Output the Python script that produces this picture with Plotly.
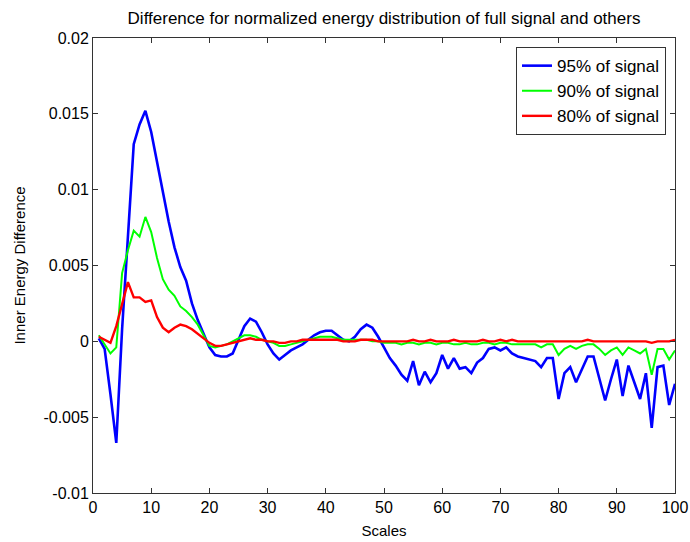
import plotly.graph_objects as go

scales = list(range(1, 101))

blue_95 = [
    0.0002, -0.0005, -0.0035, -0.0067, 0.0008, 0.0072, 0.0130, 0.0143, 0.0152, 0.0138,
    0.0118, 0.0097, 0.0079, 0.0062, 0.0049, 0.0040, 0.0025, 0.0014, 0.0005, -0.0004,
    -0.0009, -0.0010, -0.0010, -0.0008, 0.0001, 0.0010, 0.0015, 0.0013, 0.0006, -0.0002,
    -0.0008, -0.0012, -0.0009, -0.0006, -0.0004, -0.0002, 0.0001, 0.0004, 0.0006, 0.0007,
    0.0007, 0.0004, 0.0001, 0.0000, 0.0003, 0.0008, 0.0011, 0.0009, 0.0003, -0.0004,
    -0.0011, -0.0016, -0.0022, -0.0026, -0.0013, -0.0029, -0.0020, -0.0027, -0.0021, -0.0009,
    -0.0018, -0.0011, -0.0018, -0.0017, -0.0021, -0.0014, -0.0011, -0.0005, -0.0004, -0.0006,
    -0.0004, -0.0008, -0.0010, -0.0011, -0.0012, -0.0013, -0.0017, -0.0011, -0.0011, -0.0038,
    -0.0021, -0.0017, -0.0027, -0.0018, -0.0010, -0.0010, -0.0025, -0.0039, -0.0025, -0.0012,
    -0.0036, -0.0016, -0.0027, -0.0038, -0.0021, -0.0057, -0.0017, -0.0016, -0.0042, -0.0028,
]

green_90 = [
    0.0004, -0.0002, -0.0008, -0.0004, 0.0045, 0.0060, 0.0073, 0.0069, 0.0082, 0.0072,
    0.0055, 0.0041, 0.0034, 0.0030, 0.0023, 0.0020, 0.0016, 0.0011, 0.0004, -0.0003,
    -0.0004, -0.0003, -0.0002, 0.0000, 0.0002, 0.0004, 0.0004, 0.0003, 0.0001, 0.0000,
    -0.0001, -0.0003, -0.0003, -0.0002, -0.0001, 0.0000, 0.0001, 0.0002, 0.0003, 0.0003,
    0.0003, 0.0002, 0.0001, 0.0001, 0.0001, 0.0001, 0.0001, 0.0000, 0.0000, -0.0001,
    -0.0001, -0.0001, -0.0002, -0.0001, -0.0001, -0.0002, -0.0001, -0.0001, -0.0002, -0.0001,
    -0.0001, -0.0002, -0.0002, -0.0001, -0.0002, -0.0002, -0.0001, -0.0001, -0.0002, -0.0001,
    -0.0001, -0.0002, -0.0002, -0.0002, -0.0002, -0.0002, -0.0004, -0.0002, -0.0002, -0.0009,
    -0.0005, -0.0003, -0.0005, -0.0003, -0.0002, -0.0002, -0.0005, -0.0009, -0.0006, -0.0004,
    -0.0009, -0.0004, -0.0006, -0.0008, -0.0005, -0.0022, -0.0005, -0.0005, -0.0012, -0.0006,
]

red_80 = [
    0.0003, 0.0001, -0.0001, 0.0010, 0.0025, 0.0039, 0.0029, 0.0029, 0.0026, 0.0027,
    0.0016, 0.0009, 0.0006, 0.0009, 0.0011, 0.0010, 0.0008, 0.0005, 0.0002, -0.0001,
    -0.0003, -0.0003, -0.0002, -0.0001, 0.0000, 0.0001, 0.0002, 0.0001, 0.0001, 0.0000,
    0.0000, -0.0001, -0.0001, 0.0000, 0.0000, 0.0001, 0.0001, 0.0001, 0.0001, 0.0001,
    0.0001, 0.0001, 0.0000, 0.0000, 0.0000, 0.0001, 0.0001, 0.0001, 0.0000, 0.0000,
    0.0000, 0.0000, 0.0000, 0.0000, 0.0001, 0.0000, 0.0000, 0.0001, 0.0000, 0.0000,
    0.0000, 0.0001, 0.0000, 0.0000, 0.0000, 0.0000, 0.0001, 0.0000, 0.0000, 0.0001,
    0.0000, 0.0001, 0.0000, 0.0000, 0.0000, 0.0000, 0.0000, 0.0000, 0.0000, 0.0000,
    0.0000, 0.0000, 0.0000, 0.0000, 0.0001, 0.0000, 0.0000, 0.0000, 0.0000, 0.0000,
    0.0000, 0.0000, 0.0000, 0.0000, 0.0000, -0.0001, 0.0000, 0.0000, 0.0000, 0.0001,
]

series_names = ["95% of signal", "90% of signal", "80% of signal"]
series_colors = ["#0000ff", "#00ff00", "#ff0000"]
series_widths = [2.6, 2.0, 2.4]

x_ticks = list(range(0, 101, 10))
y_ticks = [-0.01, -0.005, 0, 0.005, 0.01, 0.015, 0.02]
y_tick_labels = ["-0.01", "-0.005", "0", "0.005", "0.01", "0.015", "0.02"]

fig = go.Figure()
for name, vals, col, w in zip(series_names, [blue_95, green_90, red_80], series_colors, series_widths):
    fig.add_trace(go.Scatter(x=scales, y=vals, mode="lines", name=name, legendgroup=name,
                             line=dict(color=col, width=w)))

font_family = "Liberation Sans, Arial, sans-serif"
fig.update_layout(
    width=690, height=542,
    autosize=False,
    margin=dict(l=93, r=15, t=38, b=49, autoexpand=False),
    paper_bgcolor="white", plot_bgcolor="white",
    font=dict(family=font_family, size=16, color="#000"),
    title=dict(text="Difference for normalized energy distribution of full signal and others",
               x=0.5, xref="paper", xanchor="center", y=1 - 18 / 542, yanchor="middle",
               font=dict(size=17, family=font_family, color="#000")),
    xaxis=dict(range=[0, 100], tickvals=x_ticks, ticks="inside", ticklen=5, tickcolor="#333",
               showline=True, linecolor="#333", linewidth=1, mirror="ticks", showgrid=False,
               zeroline=False, automargin=False, tickfont=dict(size=16),
               title=dict(text="Scales", standoff=10, font=dict(size=15))),
    yaxis=dict(range=[-0.01, 0.02], tickvals=y_ticks, ticktext=y_tick_labels, ticks="inside",
               ticklen=5, tickcolor="#333", showline=True, linecolor="#333", linewidth=1,
               mirror="ticks", showgrid=False, zeroline=False, automargin=False,
               tickfont=dict(size=16),
               title=dict(text="Inner Energy Difference", standoff=14, font=dict(size=15))),
    legend=dict(x=0.9845, y=0.980, xanchor="right", yanchor="top", bgcolor="white",
                bordercolor="#333", borderwidth=1, font=dict(size=17), tracegroupgap=0),
    showlegend=True,
)

fig.write_html("out.html")
